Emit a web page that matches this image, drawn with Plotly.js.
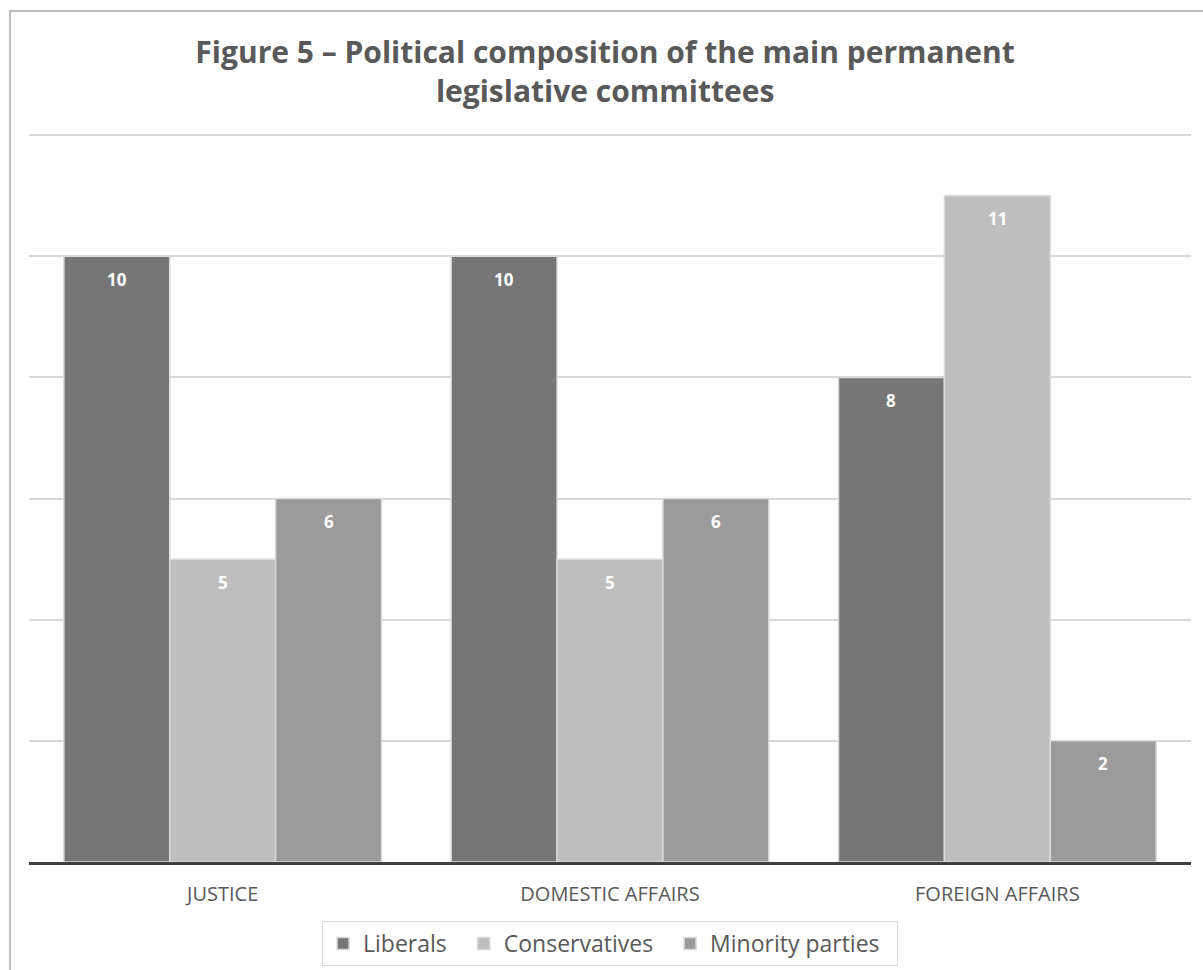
<!DOCTYPE html>
<html>
<head>
<meta charset="utf-8">
<script src="https://cdn.plot.ly/plotly-3.0.1.min.js"></script>
<style>
  html, body { margin: 0; padding: 0; background: #ffffff; }
  #chart { width: 1203px; height: 970px; }
  #frame { position: absolute; left: 9px; top: 10px; width: 1300px; height: 1100px;
           border-left: 2px solid #bdbdbd; border-top: 2px solid #bdbdbd; pointer-events: none; }
</style>
</head>
<body>
<div id="chart"></div>
<div id="frame"></div>
<script>
const categories = ["JUSTICE", "DOMESTIC AFFAIRS", "FOREIGN AFFAIRS"];
const seriesNames = ["Liberals", "Conservatives", "Minority parties"];
const liberals = [10, 10, 8];
const conservatives = [5, 5, 11];
const minority = [6, 6, 2];

const seriesValues = [liberals, conservatives, minority];
const colors = ["#767676", "#bebebe", "#9b9b9b"];
const pad = "\u00a0\u00a0";

const traces = seriesValues.map((vals, i) => ({
  type: "bar",
  name: seriesNames[i] + pad,
  x: categories,
  y: vals,
  marker: { color: colors[i], line: { color: "#d9d9d9", width: 1.5 } },
  textposition: "none",
  hoverinfo: "x+y+name"
}));

// value labels placed through the axis scales (category + value), shifted per series
const barPx = 106;
const annotations = [];
seriesValues.forEach((vals, i) => {
  vals.forEach((v, j) => {
    annotations.push({
      x: categories[j], y: v, xref: "x", yref: "y",
      text: "<b>" + v + "</b>",
      showarrow: false,
      xshift: (i - 1) * barPx,
      yshift: -23,
      font: { family: "Open Sans, sans-serif", size: 17, color: "#ffffff" }
    });
  });
});

const layout = {
  width: 1203, height: 970,
  margin: { l: 29, r: 12, t: 134, b: 108, autoexpand: false },
  paper_bgcolor: "#ffffff", plot_bgcolor: "#ffffff",
  title: {
    text: "<b>Figure 5 – Political composition of the main permanent<br>legislative committees</b>",
    x: 0.503, xanchor: "center", y: 0.935, yanchor: "middle",
    font: { family: "Open Sans, sans-serif", size: 30, color: "#595959" }
  },
  barmode: "group",
  bargap: 0.18,
  bargroupgap: 0,
  xaxis: {
    type: "category",
    showgrid: false,
    showline: true, linecolor: "#404040", linewidth: 3,
    ticks: "", ticklabelstandoff: 12,
    tickfont: { family: "Open Sans, sans-serif", size: 20, color: "#595959" },
    fixedrange: true
  },
  yaxis: {
    range: [0, 12.02], dtick: 2, tick0: 0,
    showgrid: true, gridcolor: "#d9d9d9", gridwidth: 2,
    showticklabels: false, zeroline: false, showline: false,
    fixedrange: true
  },
  showlegend: true,
  legend: {
    orientation: "h", x: 0.2522, xanchor: "left", y: -0.081, yanchor: "top",
    bordercolor: "#d9d9d9", borderwidth: 1, bgcolor: "#ffffff",
    font: { family: "Open Sans, sans-serif", size: 23, color: "#595959" },
    itemwidth: 30, traceorder: "normal"
  },
  annotations: annotations
};

Plotly.newPlot("chart", traces, layout, { displayModeBar: false, staticPlot: true });
</script>
</body>
</html>
